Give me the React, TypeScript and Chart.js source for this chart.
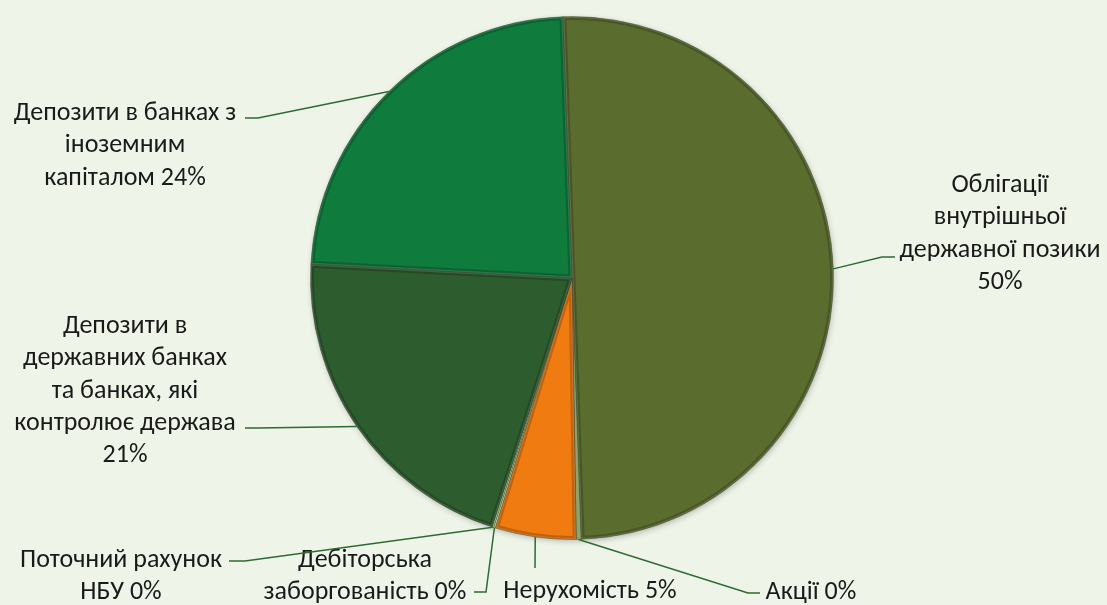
import React, { useEffect, useRef } from "react";
import { Chart, registerables } from "chart.js";

Chart.register(...registerables);

const categories = [
  "Облігації внутрішньої державної позики",
  "Акції",
  "Нерухомість",
  "Дебіторська заборгованість",
  "Поточний рахунок НБУ",
  "Депозити в державних банках та банках, які контролює держава",
  "Депозити в банках з іноземним капіталом",
];
const shares = [50.0, 0.3, 5.0, 0.1, 0.1, 20.9, 23.6];
const labelLines = [
  ["Облігації", "внутрішньої", "державної позики", "{p}"],
  ["Акції {p}"],
  ["Нерухомість {p}"],
  ["Дебіторська", "заборгованість {p}"],
  ["Поточний рахунок", "НБУ {p}"],
  ["Депозити в", "державних банках", "та банках, які", "контролює держава", "{p}"],
  ["Депозити в банках з", "іноземним", "капіталом {p}"],
];
const sliceColors = ["#5b6c2f", "#8ea468", "#f07b10", "#c5d8aa", "#aac58a", "#2d5c2e", "#0f7b3d"];

// label placement (layout only): text centre x, first baseline, elbow and end of leader
const labelLayout = [
  { cx: 1000, y0: 192, elbow: [882, 257], end: [895, 257] },
  { cx: 811, y0: 599, elbow: [748, 593], end: [760, 593] },
  { cx: 590, y0: 598, elbow: null, end: [535, 568] },
  { cx: 365, y0: 567, elbow: [486, 592], end: [474, 592] },
  { cx: 121, y0: 567, elbow: [245, 561], end: [229, 561] },
  { cx: 125, y0: 333, elbow: [258, 428], end: [245, 428] },
  { cx: 125, y0: 120, elbow: [258, 118], end: [245, 118] },
];

const FONT = '26px Carlito, Calibri, Lato, sans-serif';
const LINE_H = 32.3;

const effectsPlugin = {
  id: "pieEffects",
  beforeDatasetsDraw(chart: any) {
    const meta = chart.getDatasetMeta(0);
    const a = meta.data[0];
    if (!a) return;
    const ctx = chart.ctx;
    ctx.save();
    ctx.beginPath();
    ctx.arc(a.x, a.y, a.outerRadius - 1, 0, Math.PI * 2);
    ctx.shadowColor = "rgba(0,0,0,0.3)";
    ctx.shadowBlur = 6;
    ctx.shadowOffsetX = 1;
    ctx.shadowOffsetY = 2;
    ctx.fillStyle = "#555";
    ctx.fill();
    ctx.restore();
  },
  afterDatasetsDraw(chart: any) {
    const meta = chart.getDatasetMeta(0);
    const ctx = chart.ctx;
    meta.data.forEach((a: any) => {
      if (a.endAngle - a.startAngle < 0.03) return;
      ctx.save();
      ctx.beginPath();
      ctx.moveTo(a.x, a.y);
      ctx.arc(a.x, a.y, a.outerRadius, a.startAngle, a.endAngle);
      ctx.closePath();
      ctx.clip();
      ctx.lineJoin = "round";
      ctx.strokeStyle = "rgba(0,0,0,0.2)";
      ctx.lineWidth = 7;
      ctx.stroke();
      ctx.strokeStyle = "rgba(255,255,255,0.14)";
      ctx.lineWidth = 3;
      ctx.stroke();
      ctx.restore();
    });
  },
  afterDraw(chart: any) {
    const meta = chart.getDatasetMeta(0);
    const ctx = chart.ctx;
    const total = shares.reduce((s, v) => s + v, 0);
    ctx.save();
    ctx.font = FONT;
    ctx.textAlign = "center";
    ctx.textBaseline = "alphabetic";
    ctx.fillStyle = "#1a1a1a";
    meta.data.forEach((a: any, i: number) => {
      const L = labelLayout[i];
      const mid = (a.startAngle + a.endAngle) / 2;
      const ax = a.x + Math.cos(mid) * a.outerRadius;
      const ay = a.y + Math.sin(mid) * a.outerRadius;
      ctx.beginPath();
      ctx.strokeStyle = "#2f6a33";
      ctx.lineWidth = 1.5;
      ctx.moveTo(ax, ay);
      if (L.elbow) ctx.lineTo(L.elbow[0], L.elbow[1]);
      ctx.lineTo(L.end[0], L.end[1]);
      ctx.stroke();
      const pct = Math.round((shares[i] / total) * 100) + "%";
      labelLines[i].forEach((t, k) => {
        ctx.fillText(t.replace("{p}", pct), L.cx, L.y0 + k * LINE_H);
      });
    });
    ctx.restore();
  },
};

export default function App() {
  const ref = useRef<HTMLCanvasElement | null>(null);
  useEffect(() => {
    if (!ref.current) return;
    const chart = new Chart(ref.current, {
      type: "pie",
      data: {
        labels: categories,
        datasets: [
          {
            data: shares,
            backgroundColor: sliceColors,
            borderColor: "rgba(40,50,20,0.35)",
            borderWidth: 1,
          },
        ],
      },
      options: {
        responsive: false,
        animation: false,
        rotation: -2,
        layout: { padding: { left: 310, right: 273, top: 16, bottom: 65 } },
        plugins: { legend: { display: false }, tooltip: { enabled: false } },
      },
      plugins: [effectsPlugin],
    });
    return () => chart.destroy();
  }, []);
  return (
    <div style={{ position: "fixed", left: 0, top: 0, width: 1107, height: 605, background: "#eef5e8" }}>
      <canvas ref={ref} width={1107} height={605} />
    </div>
  );
}
